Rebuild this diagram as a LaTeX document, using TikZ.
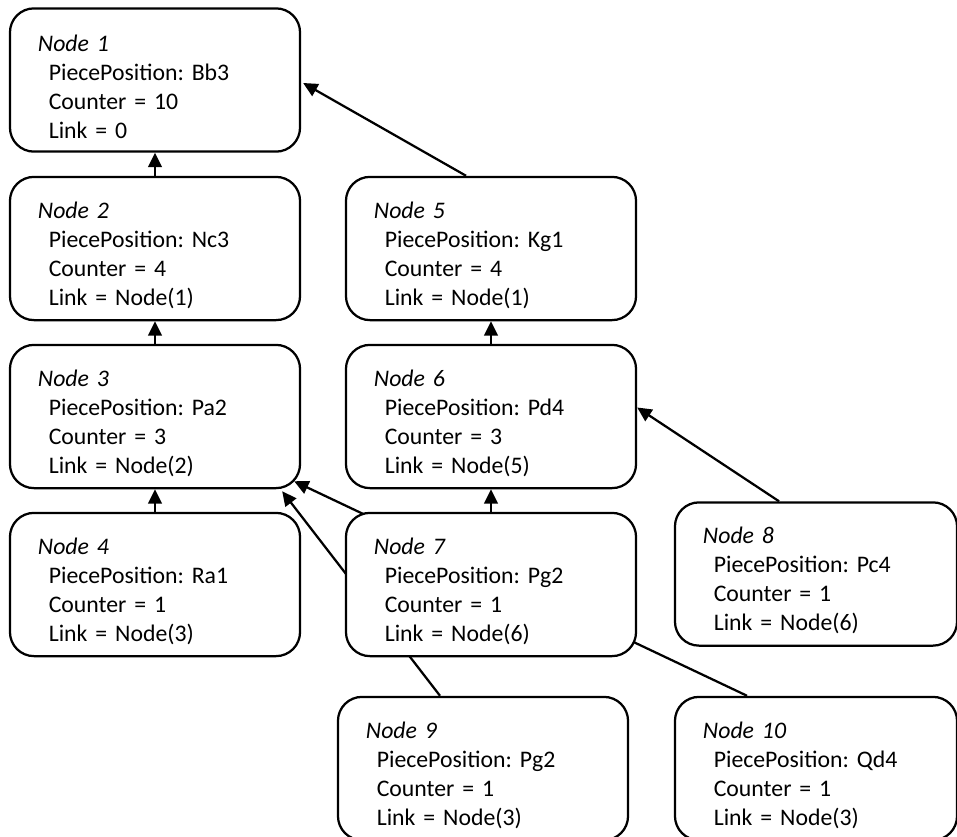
\documentclass[tikz,border=0pt]{standalone}
\usepackage{fontspec}
\setmainfont{Carlito}
\usetikzlibrary{arrows.meta,calc,backgrounds}

\begin{document}
\begin{tikzpicture}[x=0.025cm,y=-0.025cm,
    box/.style={draw, line width=1.6pt, rounded corners=0.6cm, fill=white,
        minimum width=7.25cm, minimum height=3.58cm, text width=5.85cm,
        align=left, inner xsep=0.7cm, font=\fontsize{16.9}{20.6}\selectfont,
        execute at begin node=\frenchspacing\rule{0pt}{21pt}},
    narrowbox/.style={box, minimum width=7.05cm, text width=5.65cm},
    link/.style={line width=1.6pt, -{Triangle[length=0.36cm,width=0.34cm]}}]
    \useasboundingbox (0,0) rectangle (957,836);

    % left column
    \node[box] (n1) at (155,80) {\textit{Node 1}\\\hspace*{0.27cm}PiecePosition: Bb3\\\hspace*{0.27cm}Counter = 10\\\hspace*{0.27cm}Link = 0};
    \node[box] (n2) at (155,248.5) {\textit{Node 2}\\\hspace*{0.27cm}PiecePosition: Nc3\\\hspace*{0.27cm}Counter = 4\\\hspace*{0.27cm}Link = Node(1)};
    \node[box] (n3) at (155,416.5) {\textit{Node 3}\\\hspace*{0.27cm}PiecePosition: Pa2\\\hspace*{0.27cm}Counter = 3\\\hspace*{0.27cm}Link = Node(2)};
    \node[box] (n4) at (155,584.5) {\textit{Node 4}\\\hspace*{0.27cm}PiecePosition: Ra1\\\hspace*{0.27cm}Counter = 1\\\hspace*{0.27cm}Link = Node(3)};

    % middle column
    \node[box] (n5) at (491,248.5) {\textit{Node 5}\\\hspace*{0.27cm}PiecePosition: Kg1\\\hspace*{0.27cm}Counter = 4\\\hspace*{0.27cm}Link = Node(1)};
    \node[box] (n6) at (491,416.5) {\textit{Node 6}\\\hspace*{0.27cm}PiecePosition: Pd4\\\hspace*{0.27cm}Counter = 3\\\hspace*{0.27cm}Link = Node(5)};
    \node[box] (n7) at (491,584.5) {\textit{Node 7}\\\hspace*{0.27cm}PiecePosition: Pg2\\\hspace*{0.27cm}Counter = 1\\\hspace*{0.27cm}Link = Node(6)};

    % right and bottom
    \node[narrowbox] (n8) at (816,574) {\textit{Node 8}\\\hspace*{0.27cm}PiecePosition: Pc4\\\hspace*{0.27cm}Counter = 1\\\hspace*{0.27cm}Link = Node(6)};
    \node[box] (n9) at (483,768.5) {\textit{Node 9}\\\hspace*{0.27cm}PiecePosition: Pg2\\\hspace*{0.27cm}Counter = 1\\\hspace*{0.27cm}Link = Node(3)};
    \node[narrowbox] (n10) at (816,768.5) {\textit{Node 10}\\\hspace*{0.27cm}PiecePosition: Qd4\\\hspace*{0.27cm}Counter = 1\\\hspace*{0.27cm}Link = Node(3)};

    % links, behind the boxes
    \begin{scope}[on background layer]
        \draw[link] (n2.north) -- (n1.south);
        \draw[link] (n3.north) -- (n2.south);
        \draw[link] (n4.north) -- (n3.south);
        \draw[link] ($(n5.north)+(-25,0)$) -- ($(n1.east)+(2,3)$);
        \draw[link] (n6.north) -- (n5.south);
        \draw[link] (n7.north) -- (n6.south);
        \draw[link] ($(n8.north)+(-37,0)$) -- ($(n6.east)+(0,-9)$);
        \draw[link] ($(n9.north)+(-43,0)$) -- ($(n3.south east)+(-19,2)$);
        \draw[link] ($(n10.north)+(-69,0)$) -- ($(n3.south east)+(-7,-8)$);
    \end{scope}
\end{tikzpicture}
\end{document}
